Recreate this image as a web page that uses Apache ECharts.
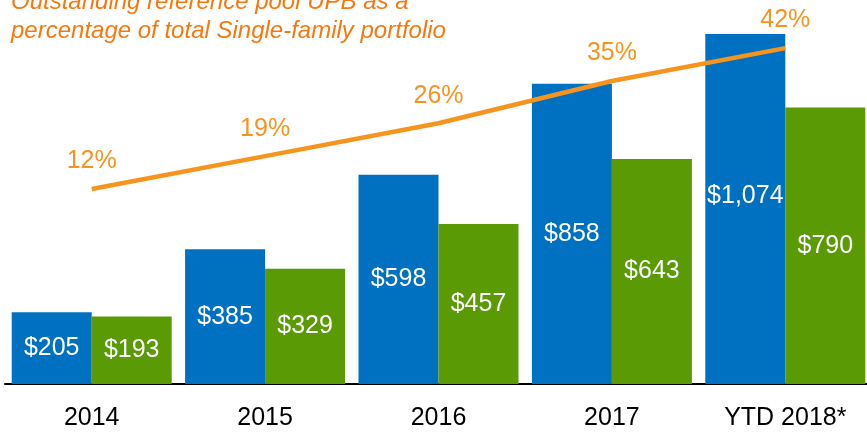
<!DOCTYPE html>
<html>
<head>
<meta charset="utf-8">
<script src="https://cdn.jsdelivr.net/npm/echarts@6/dist/echarts.min.js"></script>
<style>
  html, body { margin: 0; padding: 0; background: #fff; }
  #chart { width: 867px; height: 432px; }
</style>
</head>
<body>
<div id="chart"></div>
<script>
// 年份
var years = ['2014', '2015', '2016', '2017', 'YTD 2018*'];
// 蓝色柱 / 绿色柱 ($ 值)
var blueVals = [205, 385, 598, 858, 1074];
var greenVals = [193, 329, 457, 643, 790];
// 折线 百分比
var pctVals = [12, 19, 26, 35, 42];

var chart = echarts.init(document.getElementById('chart'));

var money = function (p) {
  return '$' + p.value.toLocaleString('en-US');
};

var option = {
  animation: false,
  title: {
    text: 'Outstanding reference pool UPB as a\npercentage of total Single-family portfolio',
    left: 6,
    top: -17,
    textStyle: {
      color: '#F7790E',
      fontStyle: 'italic',
      fontWeight: 'normal',
      fontFamily: 'Liberation Sans, Arial, sans-serif',
      fontSize: 24,
      lineHeight: 29
    }
  },
  grid: {
    left: 5,
    width: 867,
    top: 34,
    bottom: 48,
    outerBoundsMode: 'none'
  },
  xAxis: {
    type: 'category',
    data: years,
    axisLine: { show: true, lineStyle: { color: '#000', width: 2 } },
    axisTick: { show: false },
    axisLabel: {
      color: '#000',
      fontSize: 25,
      margin: 22,
      fontFamily: 'Liberation Sans, Arial, sans-serif'
    }
  },
  yAxis: [
    { type: 'value', min: 0, max: 1000, show: false },
    { type: 'value', min: -29.5, max: 45, show: false }
  ],
  series: [
    {
      type: 'bar',
      barWidth: 80,
      barGap: 0,
      clip: true,
      itemStyle: { color: '#0070C0' },
      label: {
        show: true,
        position: 'inside',
        color: '#fff',
        fontSize: 25,
        fontFamily: 'Liberation Sans, Arial, sans-serif',
        formatter: money
      },
      data: blueVals.map(function (v, i) {
        // 最后一根柱子超出坐标范围，标签保持原位
        return i === 4 ? { value: v, label: { offset: [0, -13] } } : v;
      })
    },
    {
      type: 'bar',
      barWidth: 80,
      barGap: 0,
      itemStyle: { color: '#5A9A05' },
      label: {
        show: true,
        position: 'inside',
        color: '#fff',
        fontSize: 25,
        fontFamily: 'Liberation Sans, Arial, sans-serif',
        formatter: money
      },
      data: greenVals
    },
    {
      type: 'line',
      yAxisIndex: 1,
      showSymbol: true,
      symbol: 'circle',
      symbolSize: 0,
      lineStyle: { color: '#F7941D', width: 4.5 },
      itemStyle: { color: '#F7941D' },
      label: {
        show: true,
        position: 'top',
        distance: 15,
        color: '#F7941D',
        fontSize: 25,
        fontFamily: 'Liberation Sans, Arial, sans-serif',
        formatter: '{c}%'
      },
      data: pctVals,
      z: 5
    }
  ]
};

chart.setOption(option);
</script>
</body>
</html>
